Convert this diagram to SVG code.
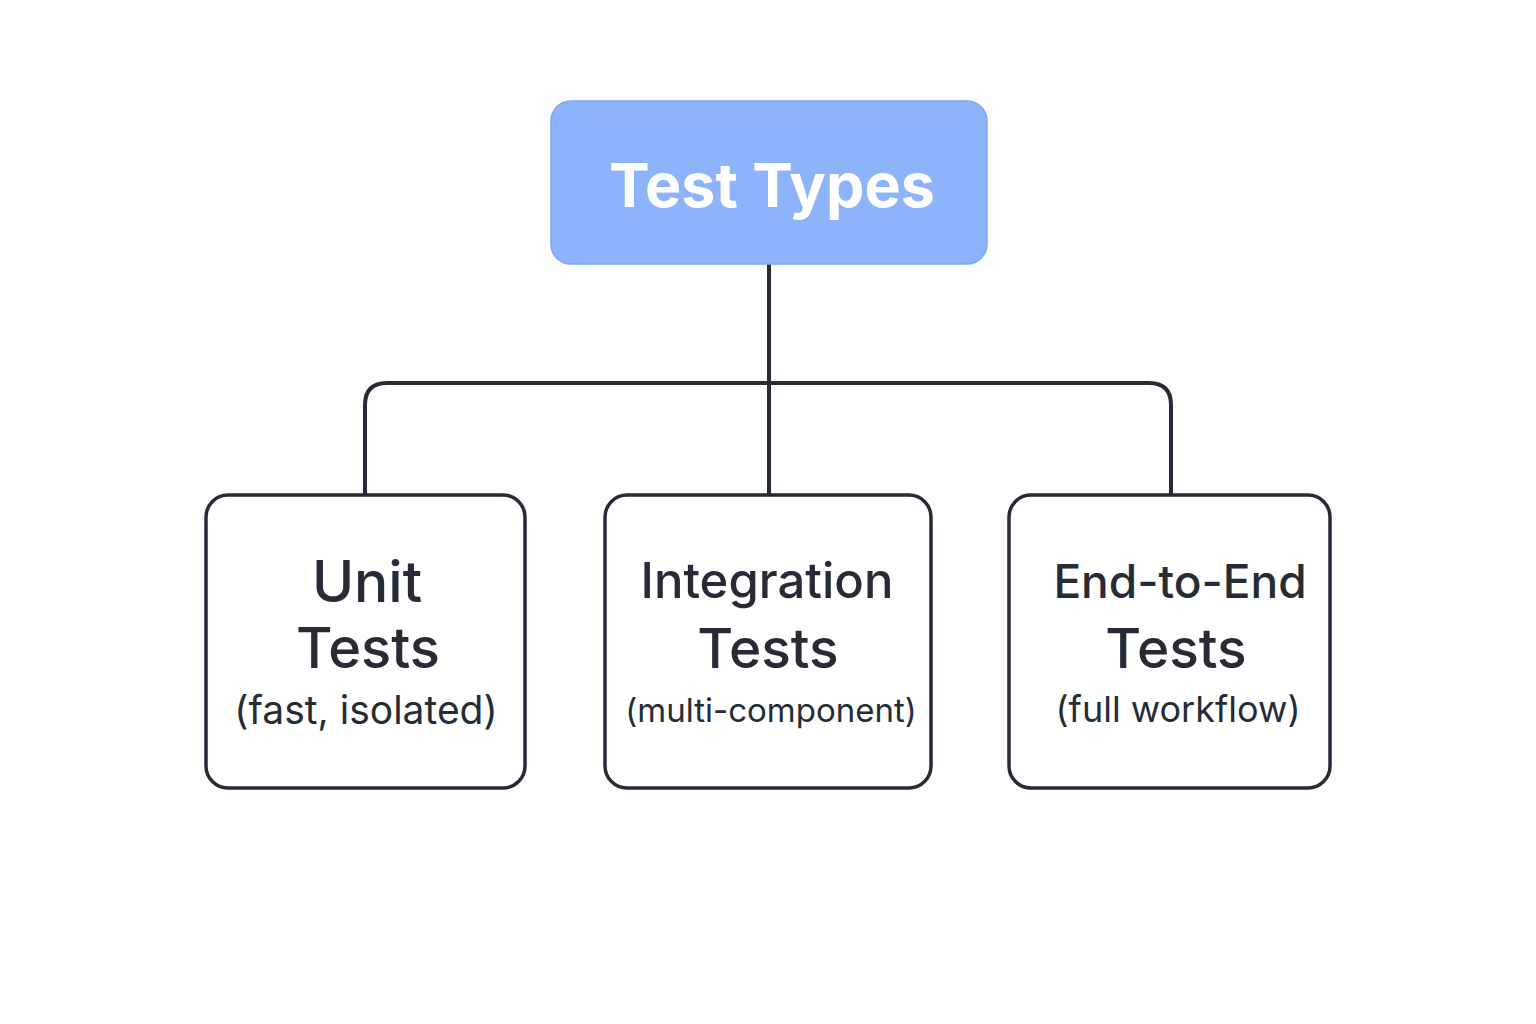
<svg xmlns="http://www.w3.org/2000/svg" width="1536" height="1024" viewBox="0 0 1536 1024">
<style>
.box{fill:#ffffff;stroke:#262c36;stroke-width:3.5}
.title{font-family:Inter,"Liberation Sans",sans-serif;font-weight:500;fill:#262c36;text-anchor:middle}
.sub{font-family:Inter,"Liberation Sans",sans-serif;font-weight:400;fill:#262c36;text-anchor:middle}
.conn{fill:none;stroke:#262c36;stroke-width:4}
</style>
<rect width="1536" height="1024" fill="#fdfdfd"/>
<g id="connectors">
<path class="conn" d="M769 264 V494"/>
<path class="conn" d="M365 494 V405 Q365 383 387 383 H1149 Q1171 383 1171 405 V494"/>
</g>
<g id="root">
<rect x="551" y="101" width="436" height="163" rx="20" fill="#8db4fb" stroke="#7ea6f3" stroke-width="1.5"/>
<text x="772" y="207" font-family="Inter,'Liberation Sans',sans-serif" font-weight="700" font-size="61" fill="#ffffff" text-anchor="middle">Test Types</text>
</g>
<g id="unit">
<rect class="box" x="206" y="495" width="319" height="293" rx="22"/>
<text class="title" x="367" y="602" font-size="57">Unit</text>
<text class="title" x="368" y="668" font-size="56">Tests</text>
<text class="sub" x="366" y="724" font-size="39">(fast, isolated)</text>
</g>
<g id="integration">
<rect class="box" x="605" y="495" width="326" height="293" rx="22"/>
<text class="title" x="767" y="598" font-size="49">Integration</text>
<text class="title" x="768" y="668" font-size="55">Tests</text>
<text class="sub" x="771" y="722" font-size="33">(multi-component)</text>
</g>
<g id="e2e">
<rect class="box" x="1009" y="495" width="321" height="293" rx="22"/>
<text class="title" x="1180" y="598" font-size="46">End-to-End</text>
<text class="title" x="1176" y="668" font-size="55">Tests</text>
<text class="sub" x="1178" y="722" font-size="36">(full workflow)</text>
</g>
</svg>
